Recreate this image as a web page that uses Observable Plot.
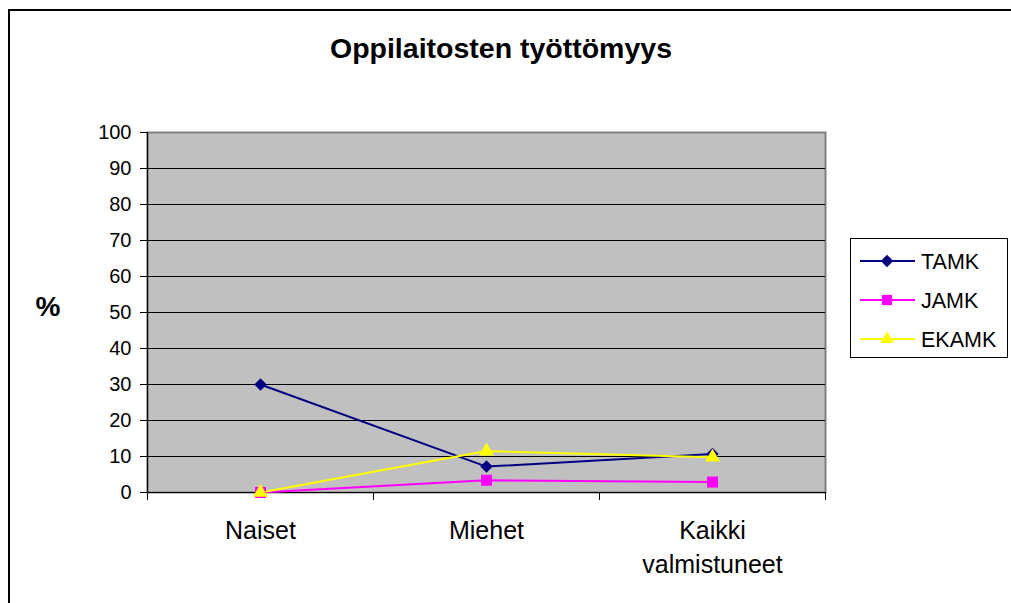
<!DOCTYPE html>
<html>
<head>
<meta charset="utf-8">
<script src="https://cdn.jsdelivr.net/npm/d3@7"></script>
<script src="https://cdn.jsdelivr.net/npm/@observablehq/plot@0.6"></script>
<style>
  html, body { margin: 0; padding: 0; background: #fff; }
  #wrap { position: relative; width: 1011px; height: 603px; overflow: hidden; font-family: "Liberation Sans", Arial, sans-serif; }
  #wrap svg { position: absolute; left: 0; top: 0; }
</style>
</head>
<body>
<div id="wrap"></div>
<script>
const title = "Oppilaitosten työttömyys";
const yLabel = "%";
const categories = ["Naiset", "Miehet", "Kaikki valmistuneet"];
const seriesNames = ["TAMK", "JAMK", "EKAMK"];
const tamk = [30, 7.2, 10.7];
const jamk = [0, 3.4, 2.9];
const ekamk = [0, 11.5, 9.8];
const yTicks = [0, 10, 20, 30, 40, 50, 60, 70, 80, 90, 100];
const seriesColors = ["#000080", "#FF00FF", "#FFFF00"];
const seriesSymbols = ["diamond2", "square2", "triangle2"];
const seriesMarkerR = [5.6, 7, 7.2];

const seriesValues = [tamk, jamk, ekamk];
const data = [];
seriesNames.forEach((s, si) => {
  categories.forEach((c, ci) => {
    data.push({series: s, category: c, idx: ci + 0.5, value: seriesValues[si][ci]});
  });
});
const catRows = categories.map((c, i) => ({category: c, idx: i + 0.5}));
const boundaries = d3.range(categories.length + 1);

const font = "Liberation Sans, Arial, sans-serif";

const chart = Plot.plot({
  width: 1011,
  height: 603,
  marginLeft: 147,
  marginRight: 186,
  marginTop: 132,
  marginBottom: 111,
  style: {fontFamily: font, fontSize: "20px", color: "#000", background: "transparent", overflow: "visible"},
  x: {type: "linear", domain: [0, categories.length], axis: null},
  y: {domain: [0, 100], axis: null},
  color: {domain: seriesNames, range: seriesColors},
  symbol: {domain: seriesNames, range: seriesSymbols},
  marks: [
    Plot.frame({fill: "#C0C0C0", stroke: "#808080", strokeWidth: 2}),
    Plot.ruleY(yTicks.filter(d => d > 0 && d < 100), {stroke: "#000", strokeWidth: 1}),
    Plot.ruleY([0], {stroke: "#000", strokeWidth: 1.2}),
    Plot.ruleX([0], {stroke: "#000", strokeWidth: 1.2}),
    Plot.axisY({ticks: yTicks, tickSize: 7, tickPadding: 9, fontSize: 20, stroke: "#000", label: null, tickFormat: d => String(d)}),
    Plot.axisX({ticks: boundaries, tickSize: 8, tickFormat: () => "", stroke: "#000", label: null}),
    Plot.text(catRows, {x: "idx", y: 0, text: d => d.category.replace(" ", "\n"), lineAnchor: "top", dy: 22, fontSize: 25, lineHeight: 1.36, fill: "#000"}),
    Plot.line(data, {x: "idx", y: "value", z: "series", stroke: "series", strokeWidth: 2}),
    ...seriesNames.map((s, i) =>
      Plot.dot(data.filter(d => d.series === s), {x: "idx", y: "value", symbol: "series", fill: "series", r: seriesMarkerR[i], stroke: "none"})
    )
  ]
});
document.getElementById("wrap").appendChild(chart);

// Overlay: border, title, y label, legend
const ov = d3.select("#wrap").append("svg").attr("width", 1011).attr("height", 603).style("font-family", font);
ov.append("path").attr("d", "M9,603V10H1011").attr("fill", "none").attr("stroke", "#000").attr("stroke-width", 2);
ov.append("text").attr("x", 501).attr("y", 58).attr("text-anchor", "middle").attr("font-weight", "bold").attr("font-size", 28.5).text(title);
ov.append("text").attr("x", 48).attr("y", 316).attr("text-anchor", "middle").attr("font-weight", "bold").attr("font-size", 28).text(yLabel);

const lg = ov.append("g").attr("transform", "translate(850,238)");
lg.append("rect").attr("x", 0.5).attr("y", 0.5).attr("width", 157).attr("height", 119).attr("fill", "#fff").attr("stroke", "#000").attr("stroke-width", 1);
const symMap = {diamond2: d3.symbolDiamond2, square2: d3.symbolSquare2, triangle2: d3.symbolTriangle2};
seriesNames.forEach((s, i) => {
  const cy = 23 + i * 39;
  const g = lg.append("g").attr("transform", `translate(0,${cy})`);
  g.append("line").attr("x1", 10).attr("x2", 65).attr("y1", 0).attr("y2", 0).attr("stroke", seriesColors[i]).attr("stroke-width", 2);
  const r = i === 0 ? 5.6 : 6.5;
  g.append("path").attr("transform", "translate(37,0)").attr("d", d3.symbol(symMap[seriesSymbols[i]], Math.PI * r * r)()).attr("fill", seriesColors[i]);
  g.append("text").attr("x", 71).attr("y", 7.5).attr("font-size", 21.5).attr("fill", "#000").text(s);
});
</script>
</body>
</html>
